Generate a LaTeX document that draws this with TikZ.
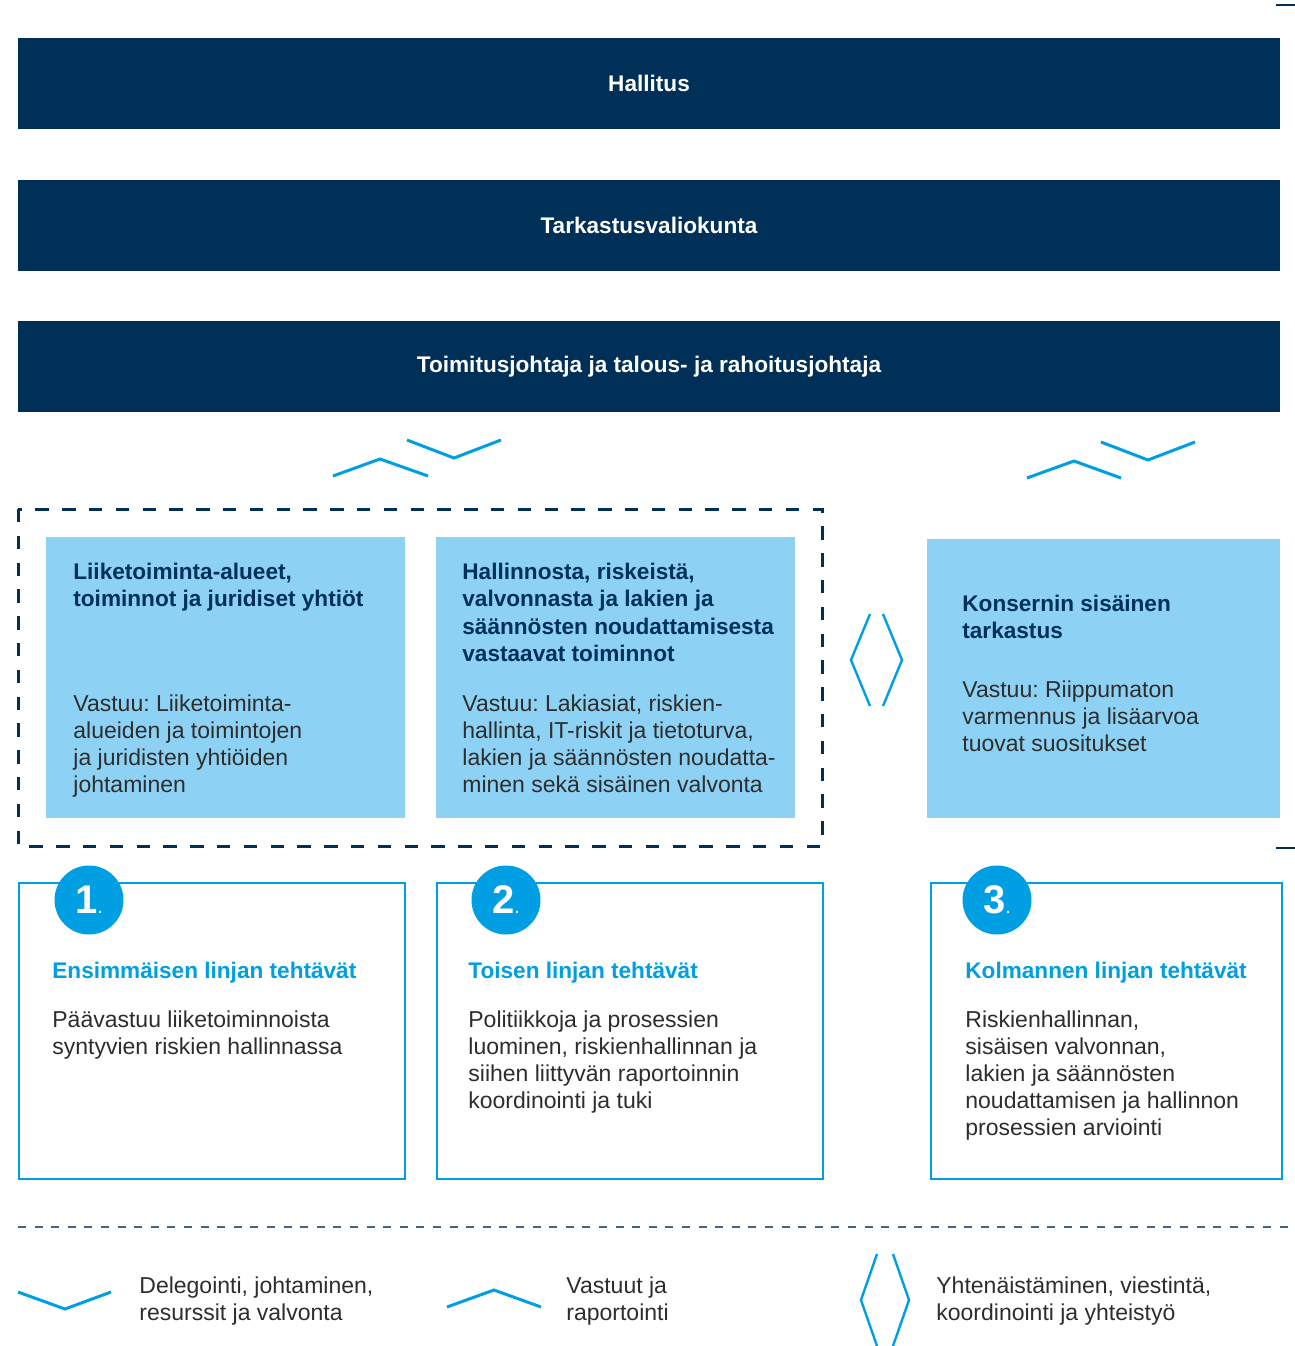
\documentclass[tikz,border=0pt]{standalone}
\usepackage{fontspec}
\setmainfont{Liberation Sans}
\frenchspacing
\definecolor{navy}{RGB}{0,48,87}
\definecolor{lightblue}{RGB}{141,210,244}
\definecolor{brightblue}{RGB}{0,158,227}
\definecolor{textgray}{RGB}{45,45,45}
\definecolor{dashgray}{RGB}{70,98,125}
\begin{document}
\begin{tikzpicture}[x=0.5pt, y=-0.5pt,
    bar/.style={fill=navy, minimum width=631pt, minimum height=45.5pt, inner sep=0, text=white, font=\fontsize{11.3}{13.6}\selectfont\bfseries},
    areabox/.style={fill=lightblue, anchor=north west, inner sep=0},
    linebox/.style={draw=brightblue, line width=1.1pt, anchor=north west, inner sep=0, minimum height=148pt},
    numcircle/.style={circle, fill=brightblue, minimum size=34.5pt, inner sep=0, text=white, font=\fontsize{20}{20}\selectfont\bfseries},
    boxtitle/.style={anchor=north west, inner sep=0, align=left, text=navy, font=\fontsize{11.3}{13.6}\selectfont\bfseries},
    boxtext/.style={anchor=north west, inner sep=0, align=left, text=textgray, font=\fontsize{11.5}{13.6}\selectfont},
    linetitle/.style={boxtitle, text=brightblue},
    chev/.style={brightblue, line width=1.5pt},
    diam/.style={brightblue, line width=1.2pt}]
    \useasboundingbox (0,0) rectangle (1295,1346);

    % Governing bodies
    \node[bar] (hallitus) at (649,83.5) {Hallitus};
    \node[bar] (valiokunta) at (649,225.5) {Tarkastusvaliokunta};
    \node[bar] (johto) at (649,366.5) {Toimitusjohtaja ja talous- ja rahoitusjohtaja};

    % Chevrons below management
    \draw[chev] (333,476) -- (380,459) -- (428,476);
    \draw[chev] (407,440) -- (454,458) -- (501,440);
    \draw[chev] (1027,478) -- (1074,461) -- (1121,478);
    \draw[chev] (1101,442) -- (1148,460) -- (1195,442);

    % Dashed frame round the first two lines
    \draw[navy, dashed, dash pattern=on 6.7pt off 6.7pt, line width=1.5pt] (18,509) rectangle (822,846);

    % Light blue areas
    \node[areabox, minimum width=179.5pt, minimum height=140.5pt] (area1) at (46,537) {};
    \node[areabox, minimum width=179.5pt, minimum height=140.5pt] (area2) at (436,537) {};
    \node[areabox, minimum width=176.5pt, minimum height=139.5pt] (area3) at (927,539) {};

    \node[boxtitle] (area1t) at (73,563) {Liiketoiminta-alueet,\\toiminnot ja juridiset yhtiöt};
    \node[boxtext] (area1v) at (73,694) {Vastuu: Liiketoiminta-\\alueiden ja toimintojen\\ja juridisten yhtiöiden\\johtaminen};
    \node[boxtitle] (area2t) at (462,563) {Hallinnosta, riskeistä,\\valvonnasta ja lakien ja\\säännösten noudattamisesta\\vastaavat toiminnot};
    \node[boxtext] (area2v) at (462,694) {Vastuu: Lakiasiat, riskien-\\hallinta, IT-riskit ja tietoturva,\\lakien ja säännösten noudatta-\\minen sekä sisäinen valvonta};
    \node[boxtitle] (area3t) at (962,595) {Konsernin sisäinen\\tarkastus};
    \node[boxtext] (area3v) at (962,680) {Vastuu: Riippumaton\\varmennus ja lisäarvoa\\tuovat suositukset};

    % Coordination sign between the areas
    \draw[diam] (870,614) -- (851,660) -- (870,706);
    \draw[diam] (883,614) -- (902,660) -- (883,706);

    % Lines of defence
    \node[linebox, minimum width=193pt] (line1) at (18,882) {};
    \node[linebox, minimum width=193pt] (line2) at (436,882) {};
    \node[linebox, minimum width=175.5pt] (line3) at (930,882) {};

    \node[numcircle] (num1) at (89,900) {1{\mdseries\fontsize{10}{10}\selectfont.}};
    \node[numcircle] (num2) at (506,900) {2{\mdseries\fontsize{10}{10}\selectfont.}};
    \node[numcircle] (num3) at (997,900) {3{\mdseries\fontsize{10}{10}\selectfont.}};

    \node[linetitle] (line1t) at (52,962) {Ensimmäisen linjan tehtävät};
    \node[boxtext] (line1v) at (52,1010) {Päävastuu liiketoiminnoista\\syntyvien riskien hallinnassa};
    \node[linetitle] (line2t) at (468,962) {Toisen linjan tehtävät};
    \node[boxtext] (line2v) at (468,1010) {Politiikkoja ja prosessien\\luominen, riskienhallinnan ja\\siihen liittyvän raportoinnin\\koordinointi ja tuki};
    \node[linetitle] (line3t) at (965,962) {Kolmannen linjan tehtävät};
    \node[boxtext] (line3v) at (965,1010) {Riskienhallinnan,\\sisäisen valvonnan,\\lakien ja säännösten\\noudattamisen ja hallinnon\\prosessien arviointi};

    % Small edge marks
    \draw[navy, line width=1pt] (1276,5) -- (1295,5);
    \draw[navy, line width=1pt] (1276,848) -- (1295,848);

    % Legend
    \draw[dashgray, dash pattern=on 4pt off 4.3pt, line width=1pt] (18,1227) -- (1295,1227);
    \draw[chev] (18,1292) -- (65,1309) -- (111,1292);
    \node[boxtext] (leg1) at (139,1276) {Delegointi, johtaminen,\\resurssit ja valvonta};
    \draw[chev] (447,1307) -- (494,1290) -- (541,1307);
    \node[boxtext] (leg2) at (566,1276) {Vastuut ja\\raportointi};
    \draw[diam] (877,1254) -- (861,1300) -- (877,1346);
    \draw[diam] (893,1254) -- (909,1300) -- (893,1346);
    \node[boxtext] (leg3) at (936,1276) {Yhtenäistäminen, viestintä,\\koordinointi ja yhteistyö};
\end{tikzpicture}
\end{document}
